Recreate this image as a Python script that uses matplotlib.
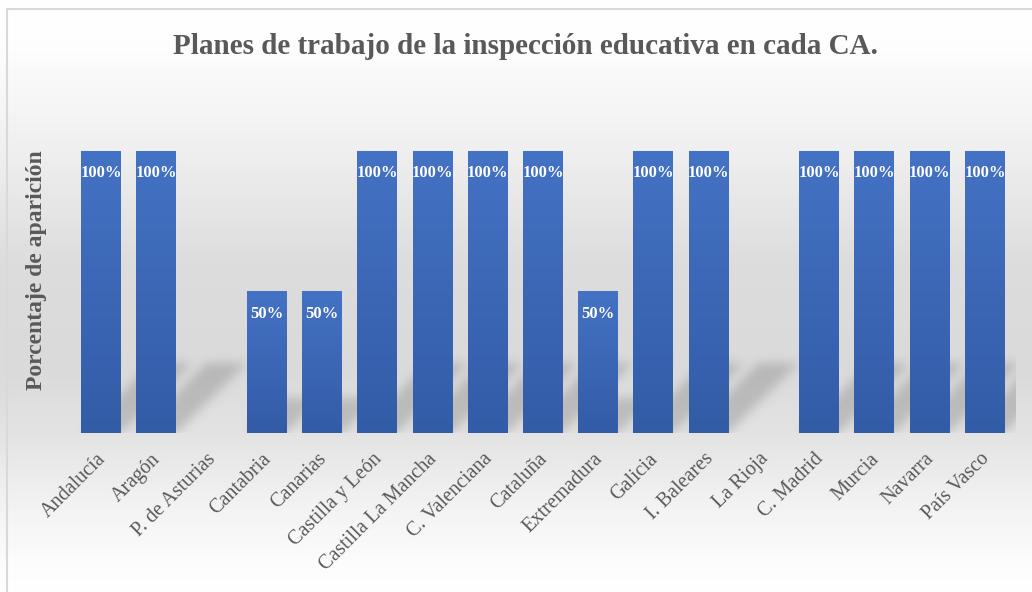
import numpy as np
import matplotlib.pyplot as plt
import matplotlib.transforms as mtransforms
from matplotlib.patches import Rectangle
from matplotlib.path import Path

comunidades = ['Andalucía', 'Aragón', 'P. de Asturias', 'Cantabria', 'Canarias',
               'Castilla y León', 'Castilla La Mancha', 'C. Valenciana', 'Cataluña',
               'Extremadura', 'Galicia', 'I. Baleares', 'La Rioja', 'C. Madrid',
               'Murcia', 'Navarra', 'País Vasco']
porcentajes = [1.0, 1.0, 0.0, 0.5, 0.5, 1.0, 1.0, 1.0, 1.0,
               0.5, 1.0, 1.0, 0.0, 1.0, 1.0, 1.0, 1.0]

plt.rcParams['font.family'] = ['Liberation Serif', 'DejaVu Serif']
gris = '#595959'
W, H = 1032, 592

fig = plt.figure(figsize=(W / 100, H / 100), dpi=100)

# fondo degradado: blanco arriba, gris en medio, blanco abajo
bg = fig.add_axes([0, 0, 1, 1], zorder=-10)
t = np.linspace(0, 1, 600)  # 0 = arriba
niveles = np.interp(t, [0, 0.08, 0.25, 0.45, 0.62, 0.73, 0.85, 0.95, 1.0],
                    [1.0, 0.995, 0.94, 0.865, 0.855, 0.89, 0.95, 0.99, 1.0])
img = np.repeat(niveles[:, None], 10, axis=1)
bg.imshow(np.dstack([img, img, img]), extent=[0, 1, 0, 1], origin='upper',
          aspect='auto', interpolation='bilinear')
bg.set_xlim(0, 1)
bg.set_ylim(0, 1)
bg.axis('off')

ax = fig.add_axes([73.4 / W, 1 - 433 / H, 939.2 / W, 282 / H])
ax.patch.set_alpha(0)
x = np.arange(len(comunidades))
barras = ax.bar(x, porcentajes, width=0.724, color='#4472c4', zorder=2)
ax.set_xlim(-0.5, len(comunidades) - 0.5)
ax.set_ylim(0, 1)

# sombra de cada barra (paralelogramo inclinado y difuminado)
sombra = np.zeros((H, W))
py, px = np.mgrid[0:H, 0:W]
pts = np.column_stack([px.ravel() + 0.5, py.ravel() + 0.5])
for b in barras:
    if b.get_height() <= 0:
        continue
    (x0, y0), (x1, y1) = ax.transData.transform(
        [(b.get_x(), 0), (b.get_x() + b.get_width(), b.get_height())])
    hs = 0.25 * (y1 - y0)
    poly = Path([(x0, y0), (x1, y0), (x1 + hs, y0 + hs), (x0 + hs, y0 + hs), (x0, y0)])
    sombra = np.maximum(sombra, poly.contains_points(pts).reshape(H, W).astype(float))
k = np.exp(-0.5 * (np.arange(-14, 15) / 5.0) ** 2)
k /= k.sum()
sombra = np.apply_along_axis(lambda r: np.convolve(r, k, mode='same'), 1, sombra)
sombra = np.apply_along_axis(lambda c: np.convolve(c, k, mode='same'), 0, sombra)
x_ax1, y_ax1 = ax.transAxes.transform((1, 1))
x_ax0, y_ax0 = ax.transAxes.transform((0, 0))
sombra[(px > x_ax1 + 3) | (py < y_ax0)] = 0
rgba = np.zeros((H, W, 4))
rgba[..., :3] = 0.45
rgba[..., 3] = sombra * 0.33
bg.imshow(rgba, extent=[0, 1, 0, 1], origin='lower', aspect='auto',
          interpolation='bilinear')
bg.add_patch(Rectangle((7 / W, -0.1), 1.2, 1 - 9 / H + 0.1, fill=False,
                       edgecolor='#d9d9d9', lw=1.5, transform=bg.transAxes))

# degradado de cada barra
grad = np.linspace(0, 1, 100)[:, None, None]
arriba = np.array([0x44, 0x72, 0xc4]) / 255
abajo = np.array([0x33, 0x5c, 0xa7]) / 255
gimg = arriba * (1 - grad) + abajo * grad
for b in barras:
    if b.get_height() > 0:
        ax.imshow(gimg, extent=[b.get_x(), b.get_x() + b.get_width(), 0, b.get_height()],
                  origin='upper', aspect='auto', zorder=3, interpolation='bilinear')
        ax.text(b.get_x() + b.get_width() / 2, b.get_height() - 0.078,
                f'{b.get_height():.0%}', ha='center', va='center', color='white',
                fontsize=12, fontweight='bold', zorder=4)

ax.set_xticks(x)
ax.set_xticklabels(comunidades, rotation=45, ha='right', rotation_mode='anchor',
                   fontsize=14.5, color=gris)
ax.tick_params(axis='x', length=0, pad=12)
desplaz = mtransforms.ScaledTranslation(-5 / 100, 0, fig.dpi_scale_trans)
for lab in ax.get_xticklabels():
    lab.set_transform(lab.get_transform() + desplaz)
ax.set_yticks([])
for s in ax.spines.values():
    s.set_visible(False)

fig.text(37 / W, 1 - 270 / H, 'Porcentaje de aparición', rotation=90,
         ha='center', va='center', fontsize=17, fontweight='bold', color=gris)
fig.text(525 / W, 1 - 47 / H, 'Planes de trabajo de la inspección educativa en cada CA.',
         ha='center', va='center', fontsize=21, fontweight='bold', color=gris)

fig.savefig('out.png', dpi=100)
